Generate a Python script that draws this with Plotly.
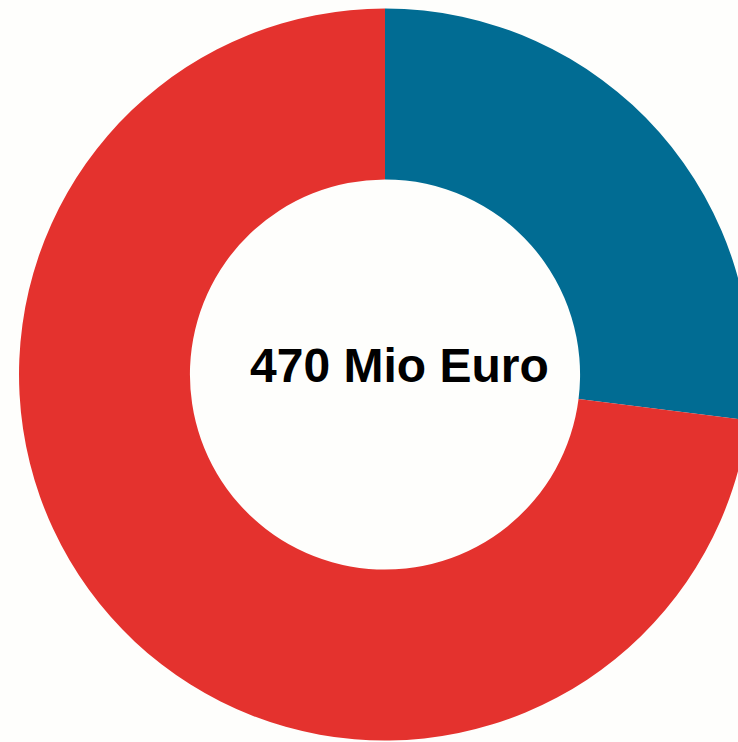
import plotly.graph_objects as go

labels = ["Anteil A", "Anteil B"]
values = [27, 73]
colors = ["#016c93", "#e4322e"]
center_text = "470 Mio Euro"

fig = go.Figure(go.Pie(
    labels=labels,
    values=values,
    hole=0.533,
    sort=False,
    direction="clockwise",
    rotation=0,
    marker=dict(colors=colors, line=dict(width=0)),
    textinfo="none",
    hoverinfo="label+percent",
    domain=dict(x=[0, 1], y=[0.002, 0.9885]),
    showlegend=False,
))

fig.add_annotation(
    text=f"<b>{center_text}</b>",
    x=399 / 770, y=(742 - 365) / 742,
    xref="paper", yref="paper",
    xanchor="center", yanchor="middle",
    showarrow=False,
    font=dict(family="Liberation Sans, Arial, sans-serif", size=48, color="#000000"),
)

fig.update_layout(
    width=770, height=742,
    margin=dict(l=0, r=0, t=0, b=0),
    paper_bgcolor="#fefefc",
    plot_bgcolor="#fefefc",
)

fig.write_html(
    "out.html",
    config={"displayModeBar": False},
    post_script="document.body.style.margin='0';document.body.style.overflow='hidden';document.documentElement.style.overflow='hidden';",
)
